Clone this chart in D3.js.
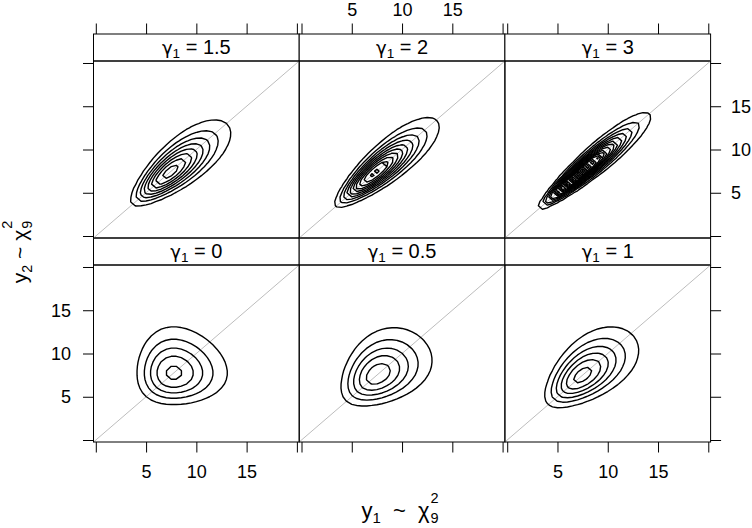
<!DOCTYPE html>
<html>
<head>
<meta charset="utf-8">
<title>Bivariate chi-square contours by gamma1</title>
<script src="https://d3js.org/d3.v7.min.js"></script>
<style>
  body { margin: 0; background: white; }
  text { font-family: "Liberation Sans", Arial, Helvetica, sans-serif; fill: black; white-space: pre; }
</style>
</head>
<body>
<svg id="chart" width="752" height="528"></svg>
<script>
// panels in lattice order: bottom row left -> right, then top row
let gammas = ["0", "0.5", "1", "1.5", "2", "3"];
// dependence in each panel (copula correlation), estimated from the contour shapes
let rhos = [0, 0.33, 0.55, 0.77, 0.85, 0.935];
// marginal density fitted to the rings of the gamma1 = 0 panel
let margShape = 11.1, margScale = 0.767;
// contour levels are multiples of this step
let levelStep = 0.005;
let gridStep = 0.5, gridMax = 20;
let axisTicks = [0, 5, 10, 15, 20];
let tickLabels = ["", "5", "10", "15", ""];

const svg = d3.select("#chart");

let colX = [93.5, 299.2, 504.9];
let panelW = 205.7, panelH = 177, stripH = 27;
let panelTop = [61, 265]; // top row, bottom row
let dom = [-0.23, 20.23];

let x = d3.scaleLinear().domain(dom).range([0, panelW]);
let y = d3.scaleLinear().domain(dom).range([panelH, 0]);

function lgamma(z) {
    const c = [76.18009172947146, -86.50532032941677, 24.01409824083091,
        -1.231739572450155, 0.1208650973866179e-2, -0.5395239384953e-5];
    let yy = z, tmp = z + 5.5;
    tmp -= (z + 0.5) * Math.log(tmp);
    let ser = 1.000000000190015;
    for (let j = 0; j < 6; j++) ser += c[j] / ++yy;
    return -tmp + Math.log(2.5066282746310005 * ser / z);
}

// regularized lower incomplete gamma
function gammaP(a, v) {
    if (v <= 0) return 0;
    let gln = lgamma(a);
    if (v < a + 1) {
        let ap = a, sum = 1 / a, del = sum;
        for (let n = 0; n < 500; n++) {
            ap++; del *= v / ap; sum += del;
            if (Math.abs(del) < Math.abs(sum) * 1e-14) break;
        }
        return sum * Math.exp(-v + a * Math.log(v) - gln);
    }
    let b = v + 1 - a, c = 1e300, d = 1 / b, h = d;
    for (let i = 1; i < 500; i++) {
        let an = -i * (i - a);
        b += 2;
        d = an * d + b; if (Math.abs(d) < 1e-300) d = 1e-300;
        c = b + an / c; if (Math.abs(c) < 1e-300) c = 1e-300;
        d = 1 / d;
        let del = d * c;
        h *= del;
        if (Math.abs(del - 1) < 1e-14) break;
    }
    return 1 - Math.exp(-v + a * Math.log(v) - gln) * h;
}

// inverse normal cdf (Acklam)
function qnorm(p) {
    const a = [-3.969683028665376e+01, 2.209460984245205e+02, -2.759285104469687e+02, 1.383577518672690e+02, -3.066479806614716e+01, 2.506628277459239e+00];
    const b = [-5.447609879822406e+01, 1.615858368580409e+02, -1.556989798598866e+02, 6.680131188771972e+01, -1.328068155288572e+01];
    const c = [-7.784894002430293e-03, -3.223964580411365e-01, -2.400758277161838e+00, -2.549732539343734e+00, 4.374664141464968e+00, 2.938163982698783e+00];
    const d = [7.784695709041462e-03, 3.224671290700398e-01, 2.445134137142996e+00, 3.754408661907416e+00];
    p = Math.min(Math.max(p, 1e-15), 1 - 1e-15);
    const pl = 0.02425;
    let q, r;
    if (p < pl) {
        q = Math.sqrt(-2 * Math.log(p));
        return (((((c[0] * q + c[1]) * q + c[2]) * q + c[3]) * q + c[4]) * q + c[5]) / ((((d[0] * q + d[1]) * q + d[2]) * q + d[3]) * q + 1);
    }
    if (p > 1 - pl) {
        q = Math.sqrt(-2 * Math.log(1 - p));
        return -(((((c[0] * q + c[1]) * q + c[2]) * q + c[3]) * q + c[4]) * q + c[5]) / ((((d[0] * q + d[1]) * q + d[2]) * q + d[3]) * q + 1);
    }
    q = p - 0.5; r = q * q;
    return (((((a[0] * r + a[1]) * r + a[2]) * r + a[3]) * r + a[4]) * r + a[5]) * q / (((((b[0] * r + b[1]) * r + b[2]) * r + b[3]) * r + b[4]) * r + 1);
}

function margPdf(v) {
    if (v <= 0) return 0;
    return Math.exp((margShape - 1) * Math.log(v) - v / margScale - lgamma(margShape) - margShape * Math.log(margScale));
}

let grid = d3.range(0, gridMax + gridStep / 2, gridStep);
let n = grid.length;
let fm = grid.map(margPdf);
let zm = grid.map(v => qnorm(gammaP(margShape, v / margScale)));

function densityGrid(rho) {
    let vals = new Array(n * n);
    let r2 = 1 - rho * rho;
    for (let j = 0; j < n; j++) {
        for (let i = 0; i < n; i++) {
            let f = fm[i] * fm[j];
            if (f > 0 && rho !== 0) {
                let z1 = zm[i], z2 = zm[j];
                f *= Math.exp(-(rho * rho * (z1 * z1 + z2 * z2) - 2 * rho * z1 * z2) / (2 * r2)) / Math.sqrt(r2);
            }
            vals[j * n + i] = f;
        }
    }
    return vals;
}

let path = d3.geoPath(d3.geoTransform({
    point: function (cx, cy) {
        this.stream.point(x((cx - 0.5) * gridStep), y((cy - 0.5) * gridStep));
    }
}));

function styleAxis(g) {
    g.select(".domain").remove();
    g.attr("font-family", null).attr("font-size", 18);
    g.selectAll(".tick line").attr("stroke", "black").attr("stroke-width", 1);
    g.selectAll(".tick text").attr("fill", "black");
}

gammas.forEach(function (gam, i) {
    let row = i < 3 ? 1 : 0, col = i % 3;
    let px = colX[col], py = panelTop[row];

    // strip
    svg.append("rect")
        .attr("x", px).attr("y", py - stripH)
        .attr("width", panelW).attr("height", stripH)
        .attr("fill", "white").attr("stroke", "black").attr("stroke-width", 1);
    let st = svg.append("text")
        .attr("x", px + panelW / 2).attr("y", py - stripH + 19.5)
        .attr("text-anchor", "middle").attr("font-size", 20);
    st.append("tspan").attr("font-family", "'DejaVu Sans'").attr("font-size", 18).text("γ");
    st.append("tspan").attr("font-size", 13.5).attr("dy", 4).text("1");
    st.append("tspan").attr("dy", -4).text(" = " + gam);

    let panel = svg.append("g").attr("transform", "translate(" + px + "," + py + ")");

    panel.append("line")
        .attr("x1", x(dom[0])).attr("y1", y(dom[0]))
        .attr("x2", x(dom[1])).attr("y2", y(dom[1]))
        .attr("stroke", "#bdbdbd").attr("stroke-width", 1);

    let vals = densityGrid(rhos[i]);
    let top = d3.max(vals);
    let levels = d3.range(1, Math.floor(top / levelStep) + 1).map(k => k * levelStep);
    let cs = d3.contours().size([n, n]).thresholds(levels)(vals);
    panel.append("g").selectAll("path")
        .data(cs)
        .join("path")
        .attr("d", path)
        .attr("fill", "none")
        .attr("stroke", "black")
        .attr("stroke-width", 1.4)
        .attr("stroke-linejoin", "round");

    panel.append("rect")
        .attr("width", panelW).attr("height", panelH)
        .attr("fill", "none").attr("stroke", "black").attr("stroke-width", 1);

    let fmtOn = (d, k) => tickLabels[k];
    let fmtOff = () => "";

    if (row === 0) {
        svg.append("g")
            .attr("transform", "translate(" + px + "," + (py - stripH) + ")")
            .call(d3.axisTop(x).tickValues(axisTicks).tickSize(10.5).tickSizeOuter(0).tickPadding(8)
                .tickFormat(col === 1 ? fmtOn : fmtOff))
            .call(styleAxis);
    } else {
        svg.append("g")
            .attr("transform", "translate(" + px + "," + (py + panelH) + ")")
            .call(d3.axisBottom(x).tickValues(axisTicks).tickSize(10.5).tickSizeOuter(0).tickPadding(12.5)
                .tickFormat(col !== 1 ? fmtOn : fmtOff))
            .call(styleAxis);
    }
    if (col === 0) {
        svg.append("g")
            .attr("transform", "translate(" + px + "," + py + ")")
            .call(d3.axisLeft(y).tickValues(axisTicks).tickSize(10.5).tickSizeOuter(0).tickPadding(12)
                .tickFormat(row === 1 ? fmtOn : fmtOff))
            .call(styleAxis);
    }
    if (col === 2) {
        svg.append("g")
            .attr("transform", "translate(" + (px + panelW) + "," + py + ")")
            .call(d3.axisRight(y).tickValues(axisTicks).tickSize(10.5).tickSizeOuter(0).tickPadding(10)
                .tickFormat(row === 0 ? fmtOn : fmtOff))
            .call(styleAxis);
    }
});

// axis titles: y_k ~ chi^2_9
function chiTitle(g, idx, gap, size) {
    let t = g.append("text").attr("font-size", size);
    t.append("tspan").text("y");
    t.append("tspan").attr("font-size", size * 0.68).attr("dy", 5).text(idx);
    t.append("tspan").attr("dy", -5).text(gap + "~" + gap + "χ");
    let w = t.node().getComputedTextLength();
    g.append("text").attr("x", w + 1).attr("y", -15).attr("font-size", 14.5).text("2");
    g.append("text").attr("x", w + 1).attr("y", 5).attr("font-size", 14.5).text("9");
    let total = w + 9;
    g.selectAll("text").attr("transform", "translate(" + (-total / 2) + ",0)");
}

chiTitle(svg.append("g").attr("transform", "translate(400,518)"), "1", "  ", 22);
chiTitle(svg.append("g").attr("transform", "translate(27,252) rotate(-90)"), "2", " ", 21);
</script>
</body>
</html>
